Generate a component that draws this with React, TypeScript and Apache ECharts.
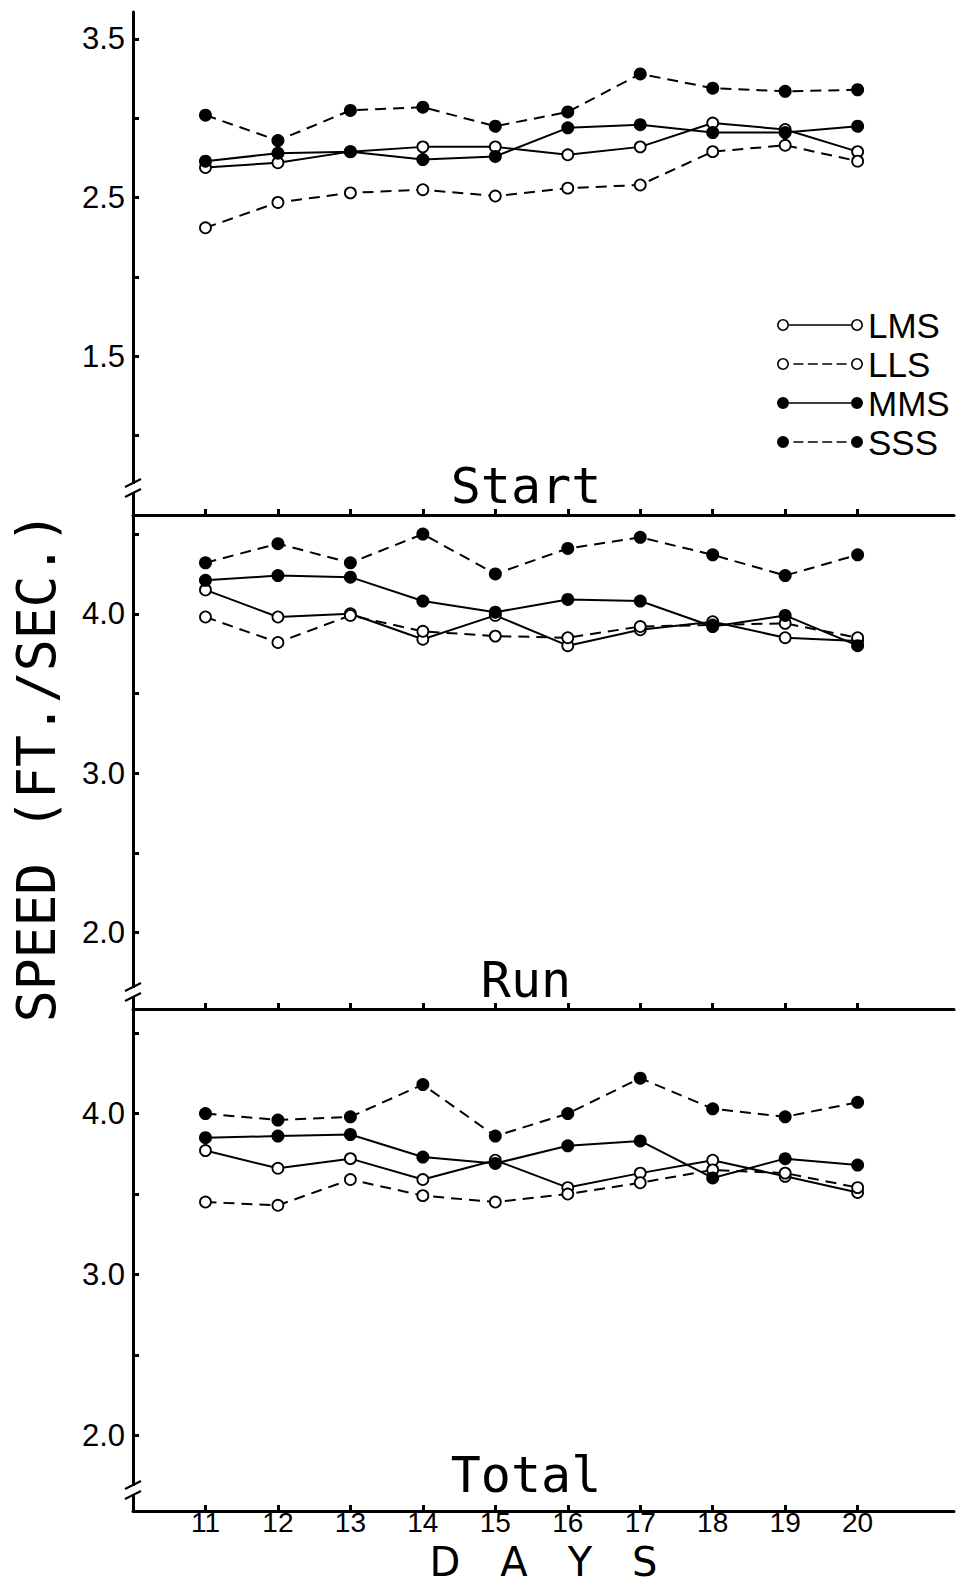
import React, { useEffect, useRef } from "react";
import * as echarts from "echarts";

const days = [11, 12, 13, 14, 15, 16, 17, 18, 19, 20];
const seriesNames = ["LMS", "LLS", "MMS", "SSS"];
const panelTitles = ["Start", "Run", "Total"];

const startLMS = [2.69, 2.72, 2.79, 2.82, 2.82, 2.77, 2.82, 2.97, 2.93, 2.79];
const startLLS = [2.31, 2.47, 2.53, 2.55, 2.51, 2.56, 2.58, 2.79, 2.83, 2.73];
const startMMS = [2.73, 2.78, 2.79, 2.74, 2.76, 2.94, 2.96, 2.91, 2.91, 2.95];
const startSSS = [3.02, 2.86, 3.05, 3.07, 2.95, 3.04, 3.28, 3.19, 3.17, 3.18];

const runLMS = [4.15, 3.98, 4.0, 3.84, 3.99, 3.8, 3.9, 3.95, 3.85, 3.83];
const runLLS = [3.98, 3.82, 3.99, 3.89, 3.86, 3.85, 3.92, 3.93, 3.94, 3.85];
const runMMS = [4.21, 4.24, 4.23, 4.08, 4.01, 4.09, 4.08, 3.92, 3.99, 3.8];
const runSSS = [4.32, 4.44, 4.32, 4.5, 4.25, 4.41, 4.48, 4.37, 4.24, 4.37];

const totalLMS = [3.77, 3.66, 3.72, 3.59, 3.71, 3.54, 3.63, 3.71, 3.61, 3.51];
const totalLLS = [3.45, 3.43, 3.59, 3.49, 3.45, 3.5, 3.57, 3.65, 3.63, 3.54];
const totalMMS = [3.85, 3.86, 3.87, 3.73, 3.69, 3.8, 3.83, 3.6, 3.72, 3.68];
const totalSSS = [4.0, 3.96, 3.98, 4.18, 3.86, 4.0, 4.22, 4.03, 3.98, 4.07];

const startTicks = [1.0, 1.5, 2.0, 2.5, 3.0, 3.5];
const startTickLabels = [1.5, 2.5, 3.5];
const lowerTicks = [2.0, 2.5, 3.0, 3.5, 4.0, 4.5];
const lowerTickLabels = [2.0, 3.0, 4.0];

const yTitle = "SPEED (FT./SEC.)";
const xTitle = "D\u2003A\u2003Y\u2003S";

// ---- layout / style (not data) ----
const W = 957;
const H = 1587;
const gridLeft = 133;
const gridRight = 3;
const grids = [
  { top: 12, height: 503, min: 0.5, max: 3.67, ticks: startTicks, labels: startTickLabels },
  { top: 515, height: 494, min: 1.52, max: 4.62, ticks: lowerTicks, labels: lowerTickLabels },
  { top: 1009, height: 502, min: 1.53, max: 4.65, ticks: lowerTicks, labels: lowerTickLabels },
];
const titleY = [486, 980, 1475];
const breakY = [488, 992, 1490];

const ring = (cx: number) =>
  `M${cx - 6},6 A6,6 0 1,1 ${cx + 6},6 A6,6 0 1,1 ${cx - 6},6 Z M${cx - 4.4},6 A4.4,4.4 0 1,0 ${cx + 4.4},6 A4.4,4.4 0 1,0 ${cx - 4.4},6 Z`;
const disc = (cx: number) => `M${cx - 6},6 A6,6 0 1,1 ${cx + 6},6 A6,6 0 1,1 ${cx - 6},6 Z`;
const solidBar = "M12,5.2 L74,5.2 L74,6.8 L12,6.8 Z";
const dashBar = [16.4, 30.8, 45.2, 59.6]
  .map((s) => `M${s},5.2 L${s + 10},5.2 L${s + 10},6.8 L${s},6.8 Z`)
  .join(" ");
const legendIcons = [
  "path://" + ring(6) + " " + solidBar + " " + ring(80),
  "path://" + ring(6) + " " + dashBar + " " + ring(80),
  "path://" + disc(6) + " " + solidBar + " " + disc(80),
  "path://" + disc(6) + " " + dashBar + " " + disc(80),
];
const seriesLook = [
  { open: true, dashed: false },
  { open: true, dashed: true },
  { open: false, dashed: false },
  { open: false, dashed: true },
];

export default function App() {
  const ref = useRef<HTMLDivElement>(null);

  useEffect(() => {
    if (!ref.current) return;
    const chart = echarts.init(ref.current, null, { renderer: "svg" });
    const panels = [
      [startLMS, startLLS, startMMS, startSSS],
      [runLMS, runLLS, runMMS, runSSS],
      [totalLMS, totalLLS, totalMMS, totalSSS],
    ];

    const series: any[] = [];
    panels.forEach((vals, p) => {
      vals.forEach((arr, k) => {
        const look = seriesLook[k];
        series.push({
          type: "line",
          name: seriesNames[k],
          xAxisIndex: p,
          yAxisIndex: p,
          data: days.map((d, i) => [d, arr[i]]),
          symbol: "circle",
          symbolSize: look.open ? 11 : 13,
          showSymbol: true,
          silent: true,
          z: look.open ? 3 : 4,
          lineStyle: { color: "#000", width: 2, type: look.dashed ? [11, 7] : "solid" },
          itemStyle: {
            color: look.open ? "#fff" : "#000",
            borderColor: "#000",
            borderWidth: look.open ? 1.8 : 0,
          },
        });
      });
    });

    const graphic: any[] = [];
    panelTitles.forEach((t, i) => {
      graphic.push({
        type: "text",
        x: 526,
        y: titleY[i],
        z: 50,
        style: {
          text: t,
          fontSize: 50,
          fontFamily: "DejaVu Sans Mono",
          fill: "#000",
          align: "center",
          verticalAlign: "middle",
          textAlign: "center",
          textVerticalAlign: "middle",
        },
      });
    });
    graphic.push({
      type: "text",
      x: 36,
      y: 767,
      rotation: Math.PI / 2,
      z: 50,
      style: {
        text: yTitle,
        fontSize: 53,
        fontFamily: "DejaVu Sans Mono",
        fill: "#000",
        align: "center",
        verticalAlign: "middle",
        textAlign: "center",
        textVerticalAlign: "middle",
      },
    });
    breakY.forEach((yb) => {
      graphic.push({
        type: "rect",
        z: 100,
        shape: { x: 127, y: yb - 4, width: 12, height: 8 },
        style: { fill: "#fff" },
      });
      graphic.push({
        type: "line",
        z: 101,
        shape: { x1: 125, y1: yb - 1, x2: 141, y2: yb - 9 },
        style: { stroke: "#000", lineWidth: 2 },
      });
      graphic.push({
        type: "line",
        z: 101,
        shape: { x1: 125, y1: yb + 9, x2: 141, y2: yb + 1 },
        style: { stroke: "#000", lineWidth: 2 },
      });
    });

    const option: any = {
      animation: false,
      backgroundColor: "#fff",
      grid: grids.map((g) => ({
        left: gridLeft,
        right: gridRight,
        top: g.top,
        height: g.height,
        containLabel: false,
        outerBoundsMode: "none",
      })),
      xAxis: grids.map((g, i) => ({
        type: "value",
        gridIndex: i,
        min: 10,
        max: 21.33,
        axisLine: { show: true, onZero: false, lineStyle: { color: "#000", width: 3 } },
        axisTick: {
          show: true,
          inside: true,
          length: 6,
          customValues: days,
          lineStyle: { color: "#000", width: 3 },
        },
        axisLabel: {
          show: i === 2,
          customValues: days,
          margin: 1,
          color: "#000",
          fontSize: 28,
          lineHeight: 20,
          fontFamily: "Liberation Sans",
        },
        splitLine: { show: false },
        name: i === 2 ? xTitle : "",
        nameLocation: "middle",
        nameGap: 31,
        nameTextStyle: { color: "#000", fontSize: 40, lineHeight: 40, fontFamily: "DejaVu Sans" },
      })),
      yAxis: grids.map((g, i) => ({
        type: "value",
        gridIndex: i,
        min: g.min,
        max: g.max,
        axisLine: { show: true, onZero: false, lineStyle: { color: "#000", width: 3 } },
        axisTick: {
          show: true,
          inside: true,
          length: 6,
          customValues: g.ticks,
          lineStyle: { color: "#000", width: 3 },
        },
        axisLabel: {
          show: true,
          customValues: g.labels,
          formatter: (v: number) => v.toFixed(1),
          margin: 8,
          color: "#000",
          fontSize: 31,
          fontFamily: "Liberation Sans",
        },
        splitLine: { show: false },
      })),
      legend: {
        orient: "vertical",
        left: 777,
        top: 300,
        padding: 0,
        itemWidth: 86,
        itemHeight: 12,
        itemGap: -11,
        selectedMode: false,
        itemStyle: { color: "#000", borderWidth: 0 },
        textStyle: {
          color: "#000",
          fontSize: 35,
          fontFamily: "Liberation Sans",
          lineHeight: 34,
          padding: [0, 0, 16, 0],
        },
        data: seriesNames.map((n, i) => ({ name: n, icon: legendIcons[i] })),
      },
      graphic,
      series,
    };

    chart.setOption(option);
    return () => chart.dispose();
  }, []);

  return (
    <div
      ref={ref}
      style={{ position: "absolute", left: 0, top: 0, width: W, height: H, background: "#fff" }}
    />
  );
}
